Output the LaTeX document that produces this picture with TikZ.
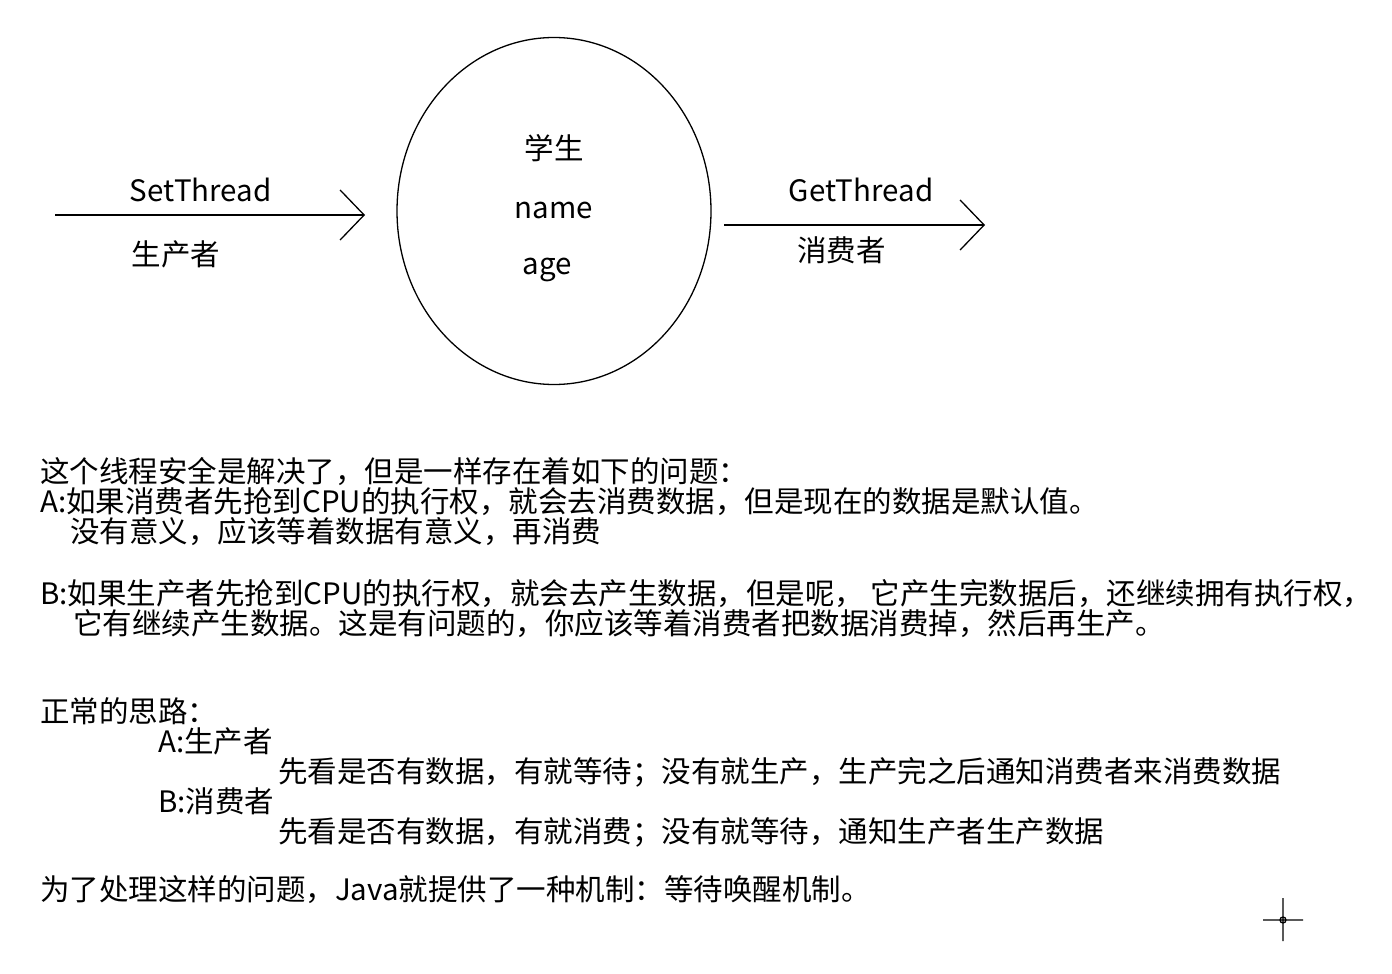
\documentclass[tikz,border=0pt]{standalone}
\usepackage{fontspec}
\setmainfont{Noto Sans CJK SC}
\usetikzlibrary{positioning, arrows.meta, shapes.geometric}

\begin{document}
\begin{tikzpicture}[
  x=1pt, y=-1pt,
  font=\fontsize{29.5}{30}\selectfont,
  lbl/.style={inner sep=0pt},
  para/.style={inner sep=0pt, anchor=north west, align=left},
  arr/.style={-{Straight Barb[length=24pt, width=50pt]}, line width=1.3pt},
]

% --- canvas ---
\fill[white] (0,0) rectangle (1392,974);

% --- shared object ---
\node[draw, ellipse, line width=1.3pt, minimum width=314pt, minimum height=347pt] (student) at (554,211) {};
\node[lbl] (title) at (554,148) {学生};
\node[lbl] (name) at (554,210) {name};
\node[lbl] (age) at (547,270) {age};

% --- producer and consumer threads ---
\coordinate (setin) at (55,215);
\coordinate (setout) at (365,215);
\coordinate (getin) at (724,225);
\coordinate (getout) at (985,225);
\draw[arr] (setin) -- node[lbl, pos=.47, yshift=25pt] (setlbl) {SetThread}
  node[lbl, pos=.39, yshift=-39pt] (prod) {生产者} (setout);
\draw[arr] (getin) -- node[lbl, pos=.525, yshift=35pt] (getlbl) {GetThread}
  node[lbl, pos=.45, yshift=-25pt] (cons) {消费者} (getout);

% --- notes ---
\node[para] (probA) at (40,457)
  {这个线程安全是解决了，但是一样存在着如下的问题：\\
   A:如果消费者先抢到CPU的执行权，就会去消费数据，但是现在的数据是默认值。\\
   \hspace*{30pt}没有意义，应该等着数据有意义，再消费};
\node[para] (probB) at (40,579)
  {B:如果生产者先抢到CPU的执行权，就会去产生数据，但是呢， 它产生完数据后，还继续拥有执行权，\\
   \hspace*{33pt}它有继续产生数据。这是有问题的，你应该等着消费者把数据消费掉，然后再生产。};
\node[para] (idea) at (40,697)
  {正常的思路：\\
   \hspace*{118pt}A:生产者\\
   \hspace*{238pt}先看是否有数据，有就等待；没有就生产，生产完之后通知消费者来消费数据\\
   \hspace*{118pt}B:消费者\\
   \hspace*{238pt}先看是否有数据，有就消费；没有就等待，通知生产者生产数据};
\node[para] (wake) at (40,875)
  {为了处理这样的问题，Java就提供了一种机制：等待唤醒机制。};

% --- cursor ---
\coordinate (cursor) at (1283,920);
\draw[line width=1.3pt, shift={(cursor)}] (-20,0) -- (20,0) (0,-22) -- (0,21) (0,0) circle[radius=3];

\end{tikzpicture}
\end{document}
